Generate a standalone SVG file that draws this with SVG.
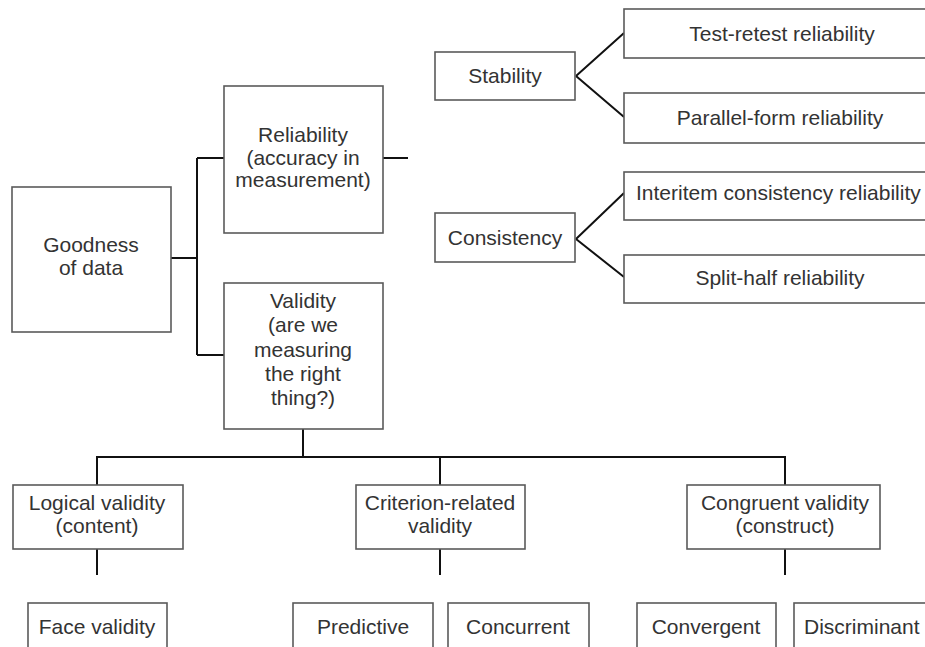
<svg xmlns="http://www.w3.org/2000/svg" width="925" height="647" viewBox="0 0 925 647">
<style>
.box{fill:#fff;stroke:#5a5a5a;stroke-width:1.6}
.t{font-family:"Liberation Sans",Arial,sans-serif;font-size:21px;fill:#333;text-anchor:middle}
.s{text-anchor:start}
.c{fill:none;stroke:#111;stroke-width:2}
</style>
<rect width="925" height="647" fill="#fff"/>
<g id="connectors">
<path class="c" d="M171,258 H197 M197,158 V355 M197,158 H224 M197,355 H224 M383,158 H408"/>
<path class="c" d="M576,76 L624,33 M576,76 L624,117 M576,239 L624,193 M576,239 L624,277"/>
<path class="c" d="M303,429 V457 M96,457 H786 M97,457 V485 M440,457 V485 M785,457 V485"/>
<path class="c" d="M97,549 V575 M440,549 V575 M785,549 V575"/>
</g>
<g id="goodness"><rect class="box" x="12" y="187" width="159" height="145"/>
<text class="t" x="91" y="252">Goodness</text><text class="t" x="91" y="275">of data</text></g>
<g id="reliability"><rect class="box" x="224" y="86" width="159" height="147"/>
<text class="t" x="303" y="142">Reliability</text><text class="t" x="303" y="165">(accuracy in</text><text class="t" x="303" y="187">measurement)</text></g>
<g id="validity"><rect class="box" x="224" y="283" width="159" height="146"/>
<text class="t" x="303" y="308">Validity</text><text class="t" x="303" y="332">(are we</text><text class="t" x="303" y="357">measuring</text><text class="t" x="303" y="381">the right</text><text class="t" x="303" y="405">thing?)</text></g>
<g id="stability"><rect class="box" x="435" y="52" width="140" height="48"/>
<text class="t" x="505" y="83">Stability</text></g>
<g id="consistency"><rect class="box" x="435" y="213" width="140" height="49"/>
<text class="t" x="505" y="245">Consistency</text></g>
<g id="test-retest"><rect class="box" x="624" y="9" width="320" height="49"/>
<text class="t" x="782" y="41">Test-retest reliability</text></g>
<g id="parallel-form"><rect class="box" x="624" y="93" width="320" height="50"/>
<text class="t" x="780" y="125">Parallel-form reliability</text></g>
<g id="interitem"><rect class="box" x="624" y="172" width="320" height="48"/>
<text class="t s" x="636" y="200">Interitem consistency reliability</text></g>
<g id="split-half"><rect class="box" x="624" y="255" width="320" height="48"/>
<text class="t" x="780" y="285">Split-half reliability</text></g>
<g id="logical"><rect class="box" x="13" y="485" width="170" height="64"/>
<text class="t" x="97" y="510">Logical validity</text><text class="t" x="97" y="533">(content)</text></g>
<g id="criterion"><rect class="box" x="356" y="485" width="169" height="64"/>
<text class="t" x="440" y="510">Criterion-related</text><text class="t" x="440" y="533">validity</text></g>
<g id="congruent"><rect class="box" x="687" y="485" width="193" height="64"/>
<text class="t" x="785" y="510">Congruent validity</text><text class="t" x="785" y="533">(construct)</text></g>
<g id="face"><rect class="box" x="28" y="603" width="139" height="60"/>
<text class="t" x="97" y="634">Face validity</text></g>
<g id="predictive"><rect class="box" x="293" y="603" width="140" height="60"/>
<text class="t" x="363" y="634">Predictive</text></g>
<g id="concurrent"><rect class="box" x="448" y="603" width="141" height="60"/>
<text class="t" x="518" y="634">Concurrent</text></g>
<g id="convergent"><rect class="box" x="637" y="603" width="139" height="60"/>
<text class="t" x="706" y="634">Convergent</text></g>
<g id="discriminant"><rect class="box" x="794" y="603" width="150" height="60"/>
<text class="t s" x="804" y="634">Discriminant</text></g>
</svg>
